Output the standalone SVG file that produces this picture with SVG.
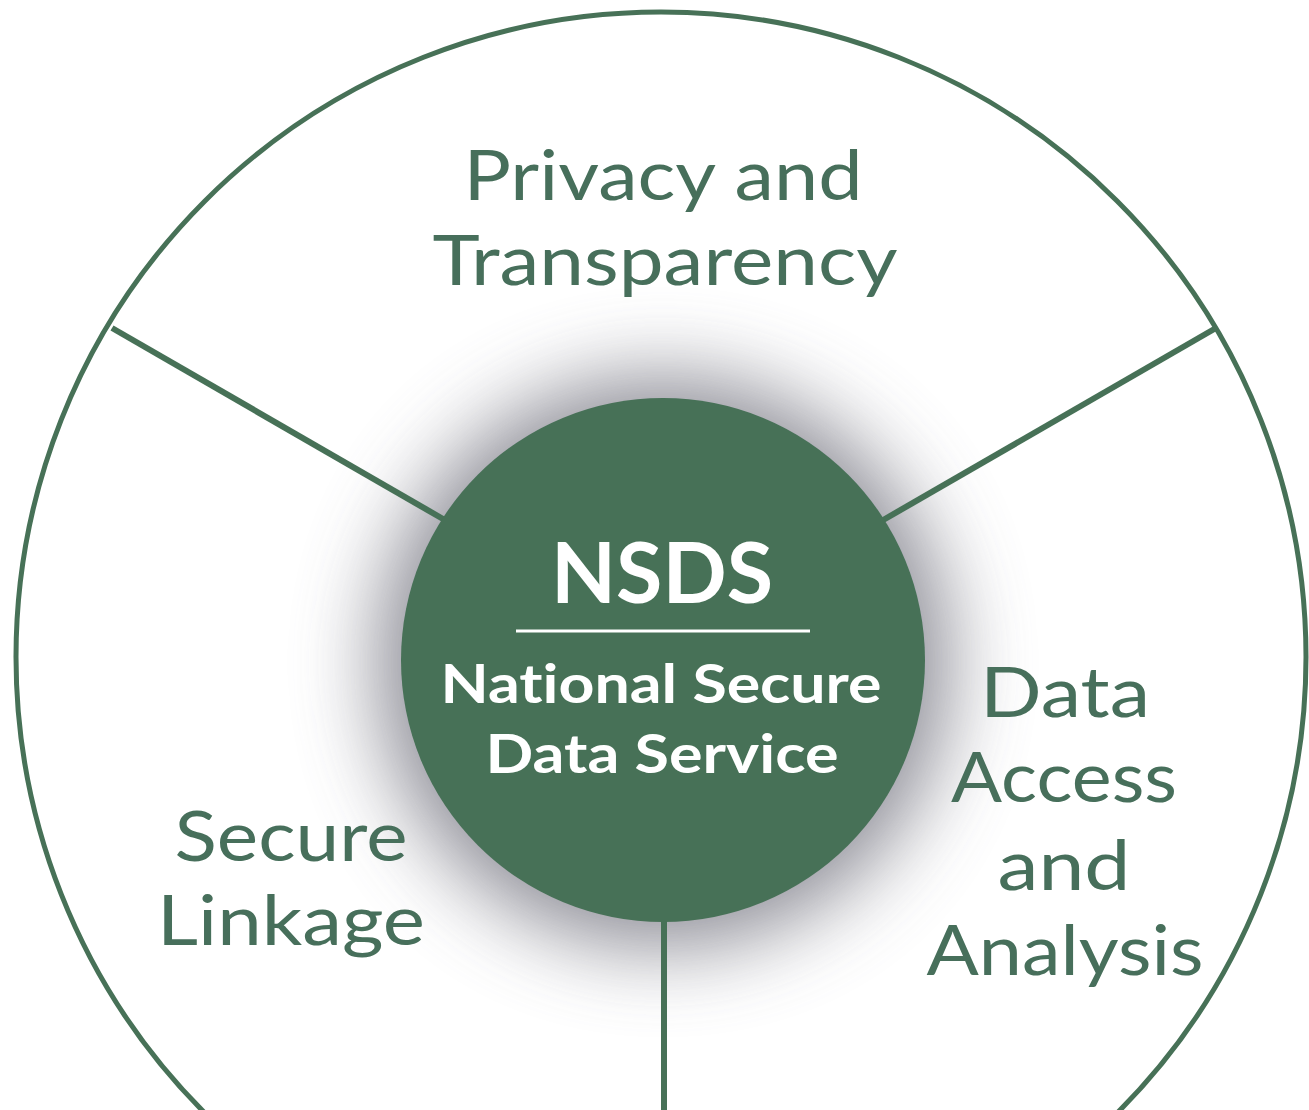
<svg xmlns="http://www.w3.org/2000/svg" width="1309" height="1110" viewBox="0 0 1309 1110">
<style>
.ring{fill:none;stroke:#477157;stroke-width:5}
.lbl{font-family:Lato,"Noto Sans",sans-serif;font-size:70px;fill:#476f5b;text-anchor:middle}
.in{font-family:Lato,"Noto Sans",sans-serif;font-weight:bold;fill:#ffffff;text-anchor:middle;font-variant-ligatures:none}
</style>
<defs>
<filter id="sh" x="-60%" y="-60%" width="220%" height="220%">
<feGaussianBlur stdDeviation="42"/>
</filter>
</defs>
<rect width="1309" height="1110" fill="#ffffff"/>
<circle class="ring" cx="661" cy="657" r="645"/>
<circle cx="663" cy="662" r="285" fill="#6e6e7a" opacity="0.8" filter="url(#sh)"/>
<g id="connectors" stroke="#477157" stroke-width="6" fill="none">
<line x1="112" y1="328" x2="450" y2="523"/>
<line x1="1216" y1="328" x2="878" y2="523"/>
<line x1="664" y1="900" x2="664" y2="1110"/>
</g>
<g id="nsds">
<circle cx="663" cy="660" r="262" fill="#477157"/>
<text class="in" x="662" y="603" font-size="84" textLength="222" lengthAdjust="spacingAndGlyphs">NSDS</text>
<line x1="516" y1="631" x2="810" y2="631" stroke="#ffffff" stroke-width="3"/>
<text class="in" x="661" y="703" font-size="54" textLength="441" lengthAdjust="spacingAndGlyphs">National Secure</text>
<text class="in" x="662" y="773" font-size="54" textLength="353" lengthAdjust="spacingAndGlyphs">Data Service</text>
</g>
<g id="privacy">
<text class="lbl" x="663" y="200" textLength="399" lengthAdjust="spacingAndGlyphs">Privacy and</text>
<text class="lbl" x="665" y="285" textLength="465" lengthAdjust="spacingAndGlyphs">Transparency</text>
</g>
<g id="access">
<text class="lbl" x="1065" y="717" textLength="170" lengthAdjust="spacingAndGlyphs">Data</text>
<text class="lbl" x="1064" y="802" textLength="226" lengthAdjust="spacingAndGlyphs">Access</text>
<text class="lbl" x="1064" y="890" textLength="133" lengthAdjust="spacingAndGlyphs">and</text>
<text class="lbl" x="1065" y="975" textLength="277" lengthAdjust="spacingAndGlyphs">Analysis</text>
</g>
<g id="linkage">
<text class="lbl" x="291" y="861" textLength="233" lengthAdjust="spacingAndGlyphs">Secure</text>
<text class="lbl" x="291" y="945" textLength="268" lengthAdjust="spacingAndGlyphs">Linkage</text>
</g>
</svg>
